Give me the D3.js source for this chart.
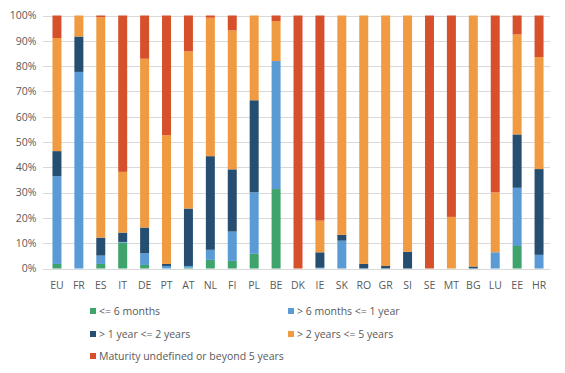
<!DOCTYPE html>
<html>
<head>
<meta charset="utf-8">
<script src="https://cdn.jsdelivr.net/npm/d3@7"></script>
<style>
  html, body { margin: 0; padding: 0; background: #fff; }
  svg text { font-family: "Open Sans", "Liberation Sans", sans-serif; fill: #595959; }
</style>
</head>
<body>
<svg id="chart" width="565" height="373"></svg>
<script>
const categories = ["EU","FR","ES","IT","DE","PT","AT","NL","FI","PL","BE","DK","IE","SK","RO","GR","SI","SE","MT","BG","LU","EE","HR"];
const seriesNames = ["<= 6 months", "> 6 months <= 1 year", "> 1 year <= 2 years", "> 2 years <= 5 years", "Maturity undefined or beyond 5 years"];
const le6m    = [1.8, 0, 1.8, 10.2, 1.4, 0, 0.3, 3.4, 3.0, 5.8, 31.4, 0, 0, 0, 0, 0, 0, 0, 0, 0, 0, 8.9, 0];
const m6to1y  = [34.7, 77.7, 3.3, 0.3, 4.6, 1.0, 0.7, 4.0, 11.6, 24.3, 50.6, 0, 0.3, 11.0, 0, 0, 0, 0, 0, 0, 6.4, 23.0, 5.4];
const y1to2   = [9.9, 14.0, 7.1, 3.7, 10.2, 0.8, 22.7, 37.0, 24.6, 36.4, 0, 0, 6.1, 2.3, 1.8, 1.0, 6.6, 0, 0, 0.8, 0, 21.1, 33.9];
const y2to5   = [44.7, 8.3, 87.1, 24.0, 66.7, 50.9, 62.1, 54.7, 54.9, 33.5, 15.8, 0, 12.5, 86.7, 98.2, 99.0, 93.4, 0, 20.4, 99.2, 23.7, 39.5, 44.3];
const beyond5 = [8.9, 0, 0.7, 61.8, 17.1, 47.3, 14.2, 0.9, 5.9, 0, 2.2, 100, 81.1, 0, 0, 0, 0, 100, 79.6, 0, 69.9, 7.5, 16.4];
const yTicks = [0, 10, 20, 30, 40, 50, 60, 70, 80, 90, 100];
const colors = ["#3fa36c", "#5b9bd5", "#264e70", "#f09a41", "#d6502b"];

const seriesArrays = [le6m, m6to1y, y1to2, y2to5, beyond5];
const keys = seriesNames;
const rows = categories.map((c, i) => {
  const r = { cat: c };
  keys.forEach((k, j) => r[k] = seriesArrays[j][i]);
  return r;
});

const svg = d3.select("#chart");
const x = d3.scaleBand().domain(categories).range([46, 550]).paddingInner(0.59).paddingOuter(0.295);
const y = d3.scaleLinear().domain([0, 100]).range([268.5, 15.5]);
const color = d3.scaleOrdinal().domain(keys).range(colors);

// gridlines
svg.append("g").selectAll("line").data(yTicks).join("line")
  .attr("x1", 43).attr("x2", 550)
  .attr("y1", d => Math.round(y(d)) + 0.5).attr("y2", d => Math.round(y(d)) + 0.5)
  .attr("stroke", "#d9d9d9").attr("stroke-width", 1);

// y axis labels
const yAxis = d3.axisLeft(y).tickValues(yTicks).tickFormat(d => d + "%").tickSize(0).tickPadding(0);
const ya = svg.append("g").attr("transform", "translate(36.5,0)").call(yAxis);
ya.select(".domain").remove();
ya.selectAll("text").attr("font-size", 10.5);

// bars
const stacked = d3.stack().keys(keys)(rows);
svg.append("g").selectAll("g").data(stacked).join("g")
  .attr("fill", d => color(d.key))
  .selectAll("rect").data(d => d).join("rect")
  .attr("x", d => x(d.data.cat))
  .attr("width", x.bandwidth())
  .attr("y", d => y(d[1]))
  .attr("height", d => Math.max(0, y(d[0]) - y(d[1])));

// x axis labels
const xAxis = d3.axisBottom(x).tickSize(0).tickPadding(0);
const xa = svg.append("g").attr("transform", "translate(0,280)").call(xAxis);
xa.select(".domain").remove();
xa.selectAll("text").attr("font-size", 10.5).attr("dy", "0.35em").attr("y", 5);
svg.selectAll(".tick text").attr("font-family", null).style("fill", "#595959");

// legend
const legendPos = [[90, 311], [288, 311], [90, 334], [288, 334], [90, 356]];
const lg = svg.append("g").selectAll("g").data(keys).join("g")
  .attr("transform", (d, i) => `translate(${legendPos[i][0]},${legendPos[i][1]})`);
lg.append("rect").attr("x", 0).attr("y", -3).attr("width", 6).attr("height", 6).attr("fill", d => color(d));
lg.append("text").attr("x", 9).attr("y", 0).attr("dy", "0.35em").attr("font-size", 10.5).text(d => d);
</script>
</body>
</html>
